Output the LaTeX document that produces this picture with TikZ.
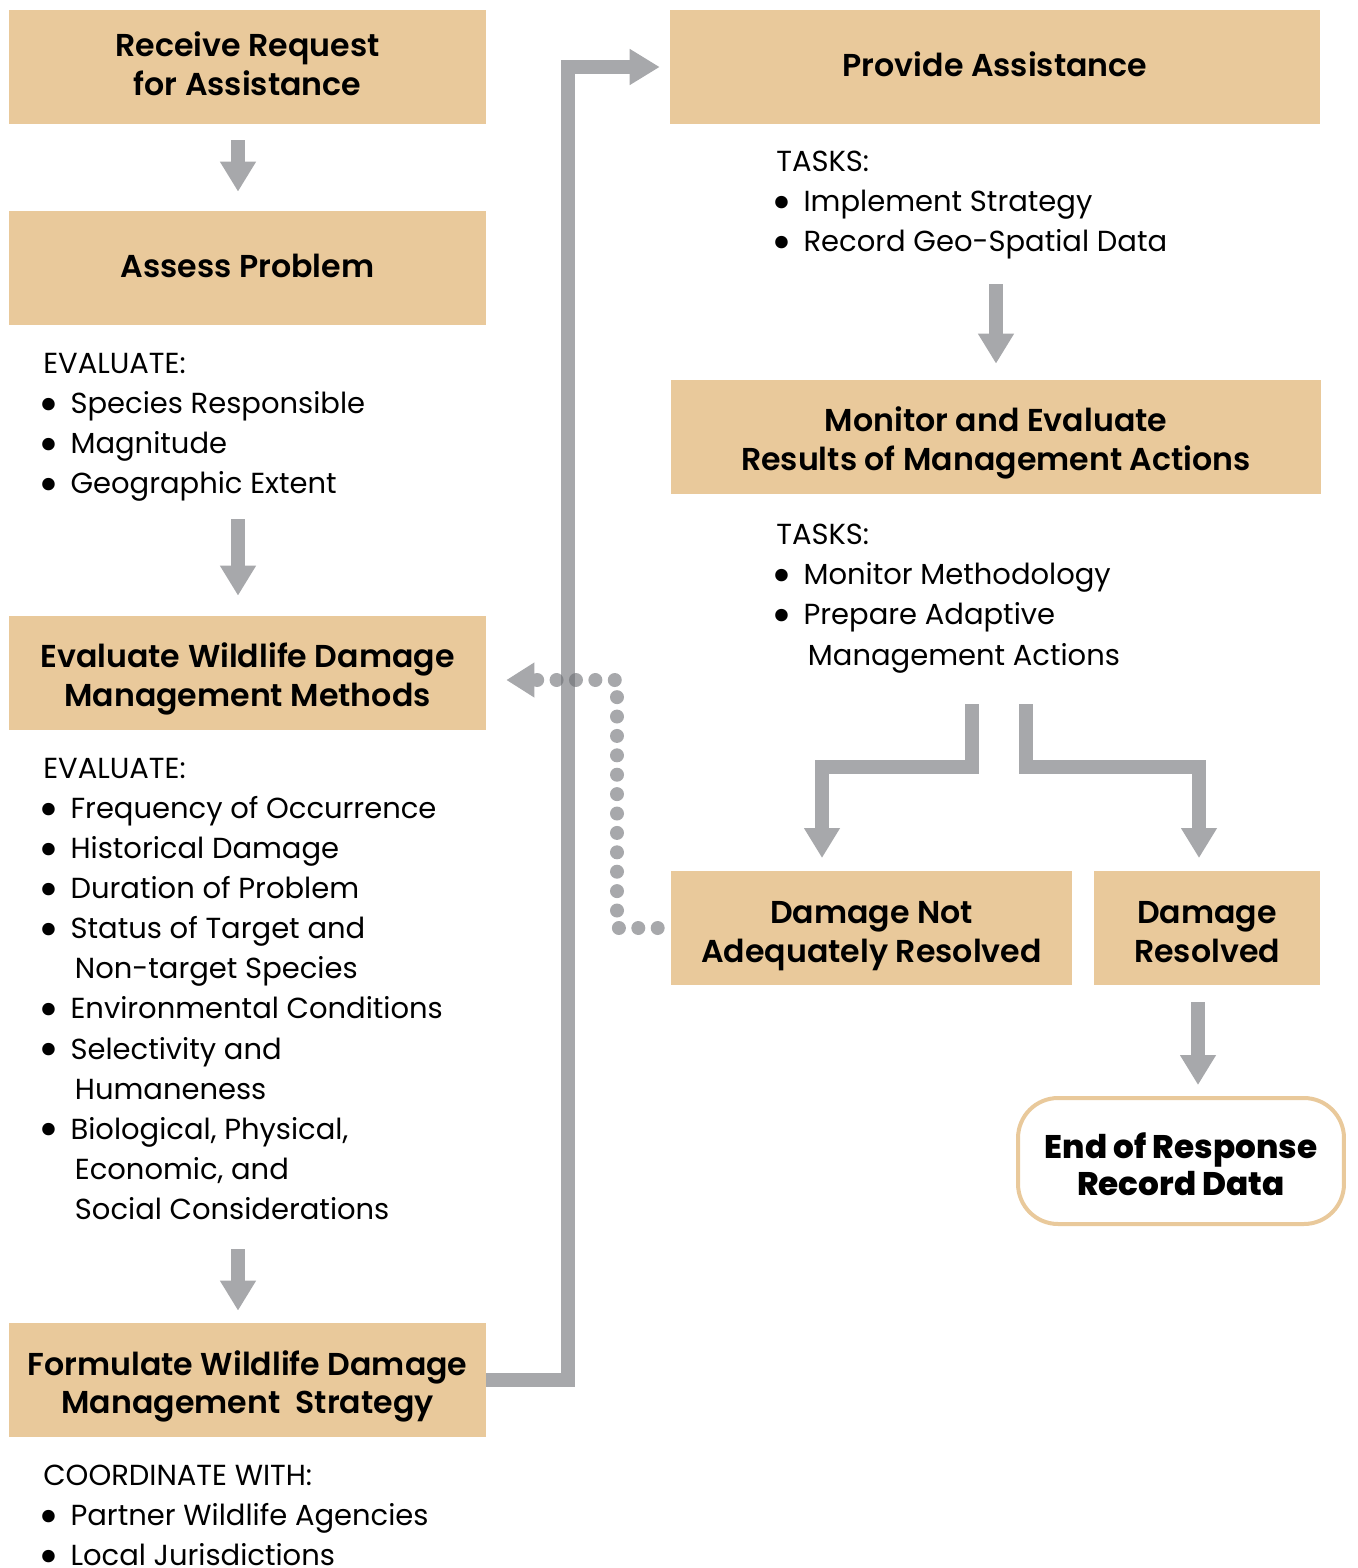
\documentclass[tikz,border=0pt]{standalone}
\usepackage{fontspec}
\IfFontExistsTF{Poppins SemiBold}
  {\setmainfont{Poppins}[BoldFont={Poppins SemiBold}]}
  {\setmainfont{Poppins}}
\IfFontExistsTF{Poppins ExtraBold}
  {\newfontfamily\heavyfont{Poppins ExtraBold}}
  {\newcommand{\heavyfont}{\bfseries}}
\usetikzlibrary{arrows.meta}
\definecolor{boxtan}{HTML}{E9C99B}
\definecolor{arrowgray}{HTML}{A7A8AB}
\definecolor{dotgray}{HTML}{6C6E73}
\newcommand{\bul}{\makebox[15.5pt][l]{\hspace*{-3pt}\smash{\raisebox{-0.27em}{\scalebox{1.75}{\textbullet}}}}}
\newcommand{\cont}{\hspace*{18pt}}
\tikzset{
  stagebox/.style={fill=boxtan, inner sep=0pt, minimum height=2.28cm, align=center,
    text depth=0pt, text height=#1,
    font=\bfseries\fontsize{18}{22}\selectfont},
  stagebox/.default=34.6pt,
  endbox/.style={draw=boxtan, line width=0.08cm, rounded corners=0.8cm, inner sep=0pt,
    minimum width=6.52cm, minimum height=2.52cm, align=center,
    text depth=0pt, text height=38.9pt,
    font=\heavyfont\fontsize{18.6}{21}\selectfont},
  listtext/.style={anchor=north west, inner sep=0pt, align=left,
    font=\fontsize{16.5}{22.8}\selectfont},
  flow/.style={draw=arrowgray, line width=0.28cm,
    -{Triangle[width=0.68cm,length=0.6cm]}},
  loopback/.style={draw=dotgray, line width=0.28cm, line cap=round,
    dash pattern=on 0pt off 0.388cm, -{Triangle[width=0.66cm,length=0.56cm]}}
}
\begin{document}
\begin{tikzpicture}[x=0.02cm,y=-0.02cm]
  \useasboundingbox (0,0) rectangle (1357,1568);
  % left column
  \node[stagebox=32.6pt, minimum width=9.54cm] (receive) at (247.5,67) {Receive Request\\for Assistance};
  \node[stagebox=10.3pt, minimum width=9.54cm] (assess) at (247.5,268) {Assess Problem};
  \node[listtext] (assessList) at (43,353) {EVALUATE:\\
    \bul Species Responsible\\
    \bul Magnitude\\
    \bul Geographic Extent};
  \node[stagebox=38pt, minimum width=9.54cm] (evalm) at (247.5,673) {Evaluate Wildlife Damage\\Management Methods};
  \node[listtext] (evalList) at (43,758) {EVALUATE:\\
    \bul Frequency of Occurrence\\
    \bul Historical Damage\\
    \bul Duration of Problem\\
    \bul Status of Target and\\
    \cont Non-target Species\\
    \bul Environmental Conditions\\
    \bul Selectivity and\\
    \cont Humaneness\\
    \bul Biological, Physical,\\
    \cont Economic, and\\
    \cont Social Considerations};
  \node[stagebox=38.6pt, minimum width=9.54cm] (formulate) at (247.5,1380) {Formulate Wildlife Damage\\Management\ \ Strategy};
  \node[listtext] (coordList) at (43,1465) {COORDINATE WITH:\\
    \bul Partner Wildlife Agencies\\
    \bul Local Jurisdictions};
  % right column
  \node[stagebox=10.3pt, minimum width=13cm] (provide) at (995,67) {Provide Assistance};
  \node[listtext] (provideList) at (776,151) {TASKS:\\
    \bul Implement Strategy\\
    \bul Record Geo-Spatial Data};
  \node[stagebox=38pt, minimum width=13cm] (monitor) at (996,437) {Monitor and Evaluate\\Results of Management Actions};
  \node[listtext] (monitorList) at (776,524) {TASKS:\\
    \bul Monitor Methodology\\
    \bul Prepare Adaptive\\
    \cont Management Actions};
  \node[stagebox=39.2pt, minimum width=8.02cm] (notres) at (871.5,928) {Damage Not\\Adequately Resolved};
  \node[stagebox=39.2pt, minimum width=4.52cm] (resolved) at (1207,928) {Damage\\Resolved};
  \node[endbox] (endresp) at (1181,1161) {End of Response\\Record Data};
  % straight arrows
  \coordinate (a1) at (238,140);
  \coordinate (a2) at (238,519);
  \coordinate (a3) at (238,1249);
  \coordinate (a4) at (996,284);
  \coordinate (a5) at (1198,1002);
  \draw[flow, shorten >=0.38cm] (a1) -- (a1 |- assess.north);
  \draw[flow, shorten >=0.4cm] (a2) -- (a2 |- evalm.north);
  \draw[flow, shorten >=0.24cm] (a3) -- (a3 |- formulate.north);
  \draw[flow, shorten >=0.32cm] (a4) -- (a4 |- monitor.north);
  \draw[flow, shorten >=0.22cm] (a5) -- (a5 |- endresp.north);
  % long connector
  \coordinate (trunk) at (567.5,1380);
  \draw[flow, shorten >=0.2cm] (formulate.east) -- (trunk) |- (provide.west);
  % split
  \coordinate (splitL) at (972,704);
  \coordinate (splitR) at (1026,704);
  \coordinate (toNot) at (822,871);
  \coordinate (toRes) at (1199,871);
  \draw[flow, shorten >=0.26cm] (splitL) -- ++(0,63) -| (toNot);
  \draw[flow, shorten >=0.26cm] (splitR) -- ++(0,63) -| (toRes);
  % dotted return, see-through where it crosses the trunk
  \coordinate (loopTurn) at (617,680);
  \begin{scope}[transparency group, opacity=0.6]
    \draw[loopback, shorten <=0.26cm, shorten >=0.4cm] (notres.west) -| (loopTurn) -- (loopTurn -| evalm.east);
  \end{scope}
\end{tikzpicture}
\end{document}
